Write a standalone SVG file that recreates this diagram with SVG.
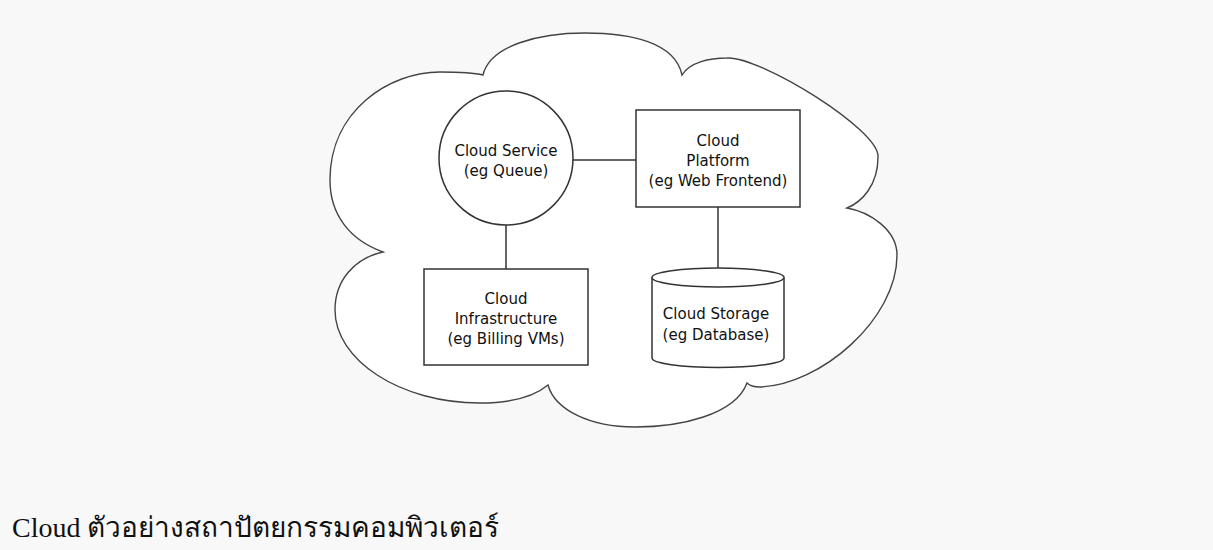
<svg xmlns="http://www.w3.org/2000/svg" width="1213" height="550" viewBox="0 0 1213 550">
<style>
.shape{fill:#fff;stroke:#333;stroke-width:1.5}
.cloud{fill:#fff;stroke:#444;stroke-width:1.4}
.conn{fill:none;stroke:#333;stroke-width:1.5}
.lbl{font-family:"DejaVu Sans",sans-serif;font-size:15px;fill:#111;text-anchor:middle}
.cap{font-family:"Liberation Serif",serif;font-size:28px;fill:#111}
</style>
<rect x="0" y="0" width="1213" height="550" fill="#f8f8f8"/>
<g id="cloud">
<path class="cloud" d="M383,252 C350,240 330,215 330,180 C330,110 390,72 440,72 C460,72 475,73 483,75 C490,45 540,33 585,33 C630,33 675,42 682,75 C690,62 710,58 727,58 C760,56 880,130 878,157 C878,185 862,202 847,208 C870,212 897,230 897,255 C897,320 820,385 760,387 C755,387 750,386 747,383 C735,415 680,427 635,427 C590,427 555,410 548,385 C530,400 500,403 480,403 C400,403 335,360 335,310 C335,280 355,258 383,252 Z"/>
</g>
<g id="connectors">
<line class="conn" x1="573" y1="160" x2="636" y2="160"/>
<line class="conn" x1="506" y1="225" x2="506" y2="269"/>
<line class="conn" x1="718" y1="207" x2="718" y2="268"/>
</g>
<g id="service">
<circle class="shape" cx="506" cy="158" r="67"/>
<text class="lbl" x="506" y="156">Cloud Service</text>
<text class="lbl" x="506" y="176">(eg Queue)</text>
</g>
<g id="platform">
<rect class="shape" x="636" y="110" width="164" height="97"/>
<text class="lbl" x="718" y="146">Cloud</text>
<text class="lbl" x="718" y="166">Platform</text>
<text class="lbl" x="718" y="186">(eg Web Frontend)</text>
</g>
<g id="infrastructure">
<rect class="shape" x="424" y="269" width="164" height="96"/>
<text class="lbl" x="506" y="304">Cloud</text>
<text class="lbl" x="506" y="324">Infrastructure</text>
<text class="lbl" x="506" y="344">(eg Billing VMs)</text>
</g>
<g id="storage">
<path class="shape" d="M652,277.5 L652,358 A66,9.5 0 0 0 784,358 L784,277.5"/>
<ellipse class="shape" cx="718" cy="277.5" rx="66" ry="9.5"/>
<text class="lbl" x="716" y="319">Cloud Storage</text>
<text class="lbl" x="716" y="340">(eg Database)</text>
</g>
<text class="cap" x="12" y="537">Cloud ตัวอย่างสถาปัตยกรรมคอมพิวเตอร์</text>
</svg>
